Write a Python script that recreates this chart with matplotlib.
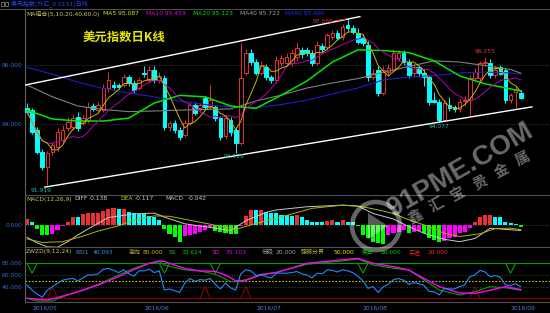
import matplotlib
matplotlib.use("Agg")
import matplotlib.pyplot as plt
from matplotlib.patches import Circle, Polygon
import numpy as np
import pandas as pd

plt.rcParams['font.family'] = ['DejaVu Sans', 'Noto Sans CJK SC']

# ---- daily candles (USD index), one per trading day, 2016/04/29 onward
opens = [94.54, 94.47, 93.80, 93.05, 92.54, 93.05, 93.22, 93.46, 93.86, 93.90,
         94.24, 94.03, 94.14, 94.61, 94.47, 94.47, 95.22, 95.32, 95.32, 95.32,
         95.59, 95.39, 95.22, 95.73, 95.49, 95.83, 95.49, 95.56, 93.90, 94.03,
         93.80, 93.63, 94.03, 94.64, 94.54, 94.88, 94.58, 94.58, 94.20, 93.59,
         94.14, 93.80, 93.36, 95.73, 96.41, 96.10, 95.73, 95.93, 95.59, 95.49,
         96.07, 96.07, 96.07, 96.27, 96.51, 96.51, 96.41, 96.07, 96.64, 96.61,
         96.95, 97.08, 96.95, 97.36, 97.25, 97.08, 96.92, 96.68, 95.59, 95.83,
         95.05, 95.76, 95.83, 96.24, 96.41, 96.10, 95.73, 95.93, 95.73, 95.59,
         94.81, 94.75, 94.14, 94.64, 94.58, 94.51, 94.78, 94.81, 95.56, 95.56,
         96.07, 96.07, 95.66, 95.93, 95.83, 94.81, 95.08, 95.05]
highs = [94.70, 94.55, 93.90, 93.15, 93.10, 93.40, 93.85, 93.95, 94.25, 94.30,
         94.40, 94.30, 94.75, 94.70, 94.75, 95.35, 95.75, 95.45, 95.40, 95.70,
         95.65, 95.50, 95.60, 95.97, 95.95, 95.95, 95.75, 95.65, 94.10, 94.15,
         93.90, 94.15, 94.75, 94.75, 94.70, 94.95, 95.32, 94.65, 94.28, 94.30,
         94.25, 93.90, 96.75, 96.55, 96.55, 96.20, 96.15, 96.05, 95.65, 96.30,
         96.35, 96.40, 96.55, 96.75, 96.62, 96.60, 96.50, 96.80, 96.75, 97.10,
         97.20, 97.20, 97.40, 97.569, 97.35, 97.25, 97.05, 96.80, 95.85, 95.95,
         95.95, 96.05, 96.55, 96.50, 96.50, 96.20, 96.05, 96.00, 95.85, 95.65,
         95.10, 94.85, 94.80, 94.90, 94.65, 94.85, 94.95, 95.65, 95.90, 96.15,
         96.255, 96.20, 95.95, 96.00, 95.90, 95.05, 95.30, 95.15]
lows = [94.35, 93.65, 92.98, 92.45, 91.919, 92.95, 93.10, 93.35, 93.75, 93.80,
        93.75, 93.95, 94.05, 94.45, 94.40, 94.40, 95.10, 95.20, 95.18, 95.25,
        95.30, 95.05, 95.15, 95.60, 95.40, 95.40, 95.40, 93.80, 93.75, 93.70,
        93.45, 93.55, 93.95, 94.30, 94.45, 94.50, 94.50, 94.10, 93.45, 93.50,
        93.60, 93.019, 93.30, 95.65, 96.00, 95.65, 95.65, 95.50, 95.40, 95.40,
        95.95, 95.95, 95.95, 96.15, 96.25, 96.30, 95.95, 96.00, 96.45, 96.50,
        96.85, 96.85, 96.85, 97.15, 97.05, 96.70, 96.65, 95.45, 95.50, 94.95,
        94.98, 95.65, 95.75, 96.15, 96.00, 95.55, 95.60, 95.60, 95.30, 94.65,
        94.70, 94.077, 94.10, 94.45, 94.40, 94.40, 94.60, 94.30, 95.45, 95.45,
        95.95, 95.55, 95.55, 95.65, 94.70, 94.70, 94.54, 94.85]
closes = [94.41, 93.73, 93.05, 92.54, 93.02, 93.29, 93.73, 93.80, 94.07, 94.20,
          93.86, 94.20, 94.58, 94.51, 94.64, 95.22, 95.49, 95.25, 95.25, 95.59,
          95.39, 95.15, 95.49, 95.69, 95.83, 95.49, 95.63, 93.90, 94.03, 93.80,
          93.56, 94.03, 94.64, 94.37, 94.64, 94.58, 94.81, 94.20, 93.56, 94.20,
          93.73, 93.36, 95.56, 96.41, 96.10, 95.73, 96.00, 95.59, 95.49, 96.17,
          96.24, 96.27, 96.41, 96.58, 96.37, 96.41, 96.07, 96.68, 96.54, 97.02,
          97.08, 96.92, 97.29, 97.25, 97.12, 96.78, 96.75, 95.59, 95.73, 95.05,
          95.83, 95.90, 96.41, 96.41, 96.10, 95.66, 95.93, 95.73, 95.59, 94.75,
          94.75, 94.14, 94.71, 94.54, 94.51, 94.75, 94.81, 95.56, 95.76, 96.07,
          96.10, 95.66, 95.83, 95.70, 94.81, 94.98, 95.15, 94.88]

# longer moving averages at sample days
ma_idx = [0, 5, 10, 15, 20, 25, 30, 35, 40, 45, 50, 55, 60, 65, 70, 75, 80, 85, 90, 95, 97]
ma20 = [94.47, 94.17, 94.10, 94.10, 94.20, 94.71, 94.97, 94.92, 94.61, 94.53, 94.98,
        95.46, 96.10, 96.51, 96.49, 96.42, 96.14, 95.63, 95.36, 95.19, 95.123]
ma40 = [95.32, 94.92, 94.61, 94.49, 94.42, 94.44, 94.47, 94.49, 94.51, 94.78, 94.98,
        95.22, 95.39, 95.54, 95.75, 95.95, 96.14, 96.10, 95.98, 95.85, 95.723]
ma60 = [95.92, 95.69, 95.42, 95.20, 95.05, 94.92, 94.78, 94.66, 94.58, 94.56, 94.66,
        94.81, 95.02, 95.22, 95.49, 95.59, 95.64, 95.73, 95.76, 95.73, 95.690]

# trend channel (day index, price)
upper_x, upper_y = [-0.4, 65.4], [95.32, 97.64]
lower_x, lower_y = [3.5, 99.2], [91.86, 94.58]

# MACD(12,26,9)
macd_bar = [0.151, 0.067, -0.101, -0.244, -0.252, -0.227, -0.126, -0.025, 0.067, 0.21,
            0.193, 0.277, 0.294, 0.302, 0.303, 0.361, 0.403, 0.42, 0.403, 0.415,
            0.319, 0.311, 0.277, 0.269, 0.235, 0.193, 0.126, -0.101, -0.227, -0.311,
            -0.437, -0.269, -0.26, -0.227, -0.168, -0.126, -0.042, -0.143, -0.185, -0.19,
            -0.227, -0.235, -0.025, 0.235, 0.378, 0.37, 0.386, 0.319, 0.311, 0.294,
            0.252, 0.244, 0.235, 0.244, 0.21, 0.126, 0.084, 0.076, 0.067, 0.109,
            0.118, 0.084, 0.118, 0.084, 0.076, -0.017, -0.252, -0.336, -0.42, -0.462,
            -0.47, -0.252, -0.21, -0.168, -0.126, -0.193, -0.168, -0.16, -0.21, -0.336,
            -0.378, -0.42, -0.403, -0.336, -0.294, -0.21, -0.168, -0.084, 0.084, 0.21,
            0.252, 0.26, 0.21, 0.202, 0.084, 0.042, 0.017, -0.042]
diff_idx = [0, 2, 4, 6, 8, 10, 12, 16, 21, 25, 27, 31, 36, 40, 43, 47, 49, 55, 62,
            65, 68, 72, 75, 78, 82, 85, 88, 91, 94, 97]
diff_val = [-0.31, -0.45, -0.55, -0.56, -0.42, -0.25, -0.10, 0.19, 0.28, 0.30, 0.20,
            0.03, -0.06, -0.14, 0.11, 0.32, 0.38, 0.46, 0.50, 0.48, 0.29, 0.15, -0.04,
            -0.21, -0.36, -0.42, -0.34, -0.08, -0.11, -0.138]
dea_idx = [0, 3, 7, 11, 14, 18, 21, 25, 28, 32, 36, 41, 45, 49, 56, 62, 66, 69, 72,
           75, 79, 82, 85, 89, 92, 95, 97]
dea_val = [-0.35, -0.44, -0.42, -0.28, -0.15, -0.02, 0.12, 0.23, 0.22, 0.12, 0.02, -0.11,
           0.04, 0.17, 0.42, 0.50, 0.46, 0.38, 0.29, 0.13, -0.04, -0.21, -0.29, -0.22,
           -0.09, -0.08, -0.117]

# ZWZD(9,12,24)
rsi1 = [43, 34, 27, 22, 34, 40, 46, 51, 53, 54,
        50, 55, 60, 60, 62, 70, 71, 68, 64, 69,
        62, 58, 67, 67, 70, 64, 67, 34, 36, 33,
        30, 46, 54, 49, 52, 51, 54, 44, 36, 46,
        38, 34, 62, 69, 67, 59, 61, 57, 55, 63,
        63, 63, 64, 66, 62, 60, 55, 63, 62, 69,
        68, 65, 69, 67, 64, 58, 50, 37, 40, 30,
        40, 44, 52, 54, 51, 44, 47, 45, 42, 32,
        31, 26, 37, 36, 36, 40, 43, 57, 60, 68,
        65, 57, 59, 56, 43, 42, 45, 40.093]
ss_idx = [0, 2, 5, 8, 11, 14, 18, 21, 24, 26, 27, 31, 34, 37, 40, 42, 46, 49, 55, 62,
          65, 68, 72, 75, 78, 81, 85, 88, 91, 94, 97]
ss_val = [20, 15.4, 15.4, 25.7, 34.3, 44, 60, 71.4, 80, 82.9, 77.1, 68.6, 66.9, 61.1,
          48.6, 48.6, 61.1, 64.6, 78.3, 84, 87.4, 77.1, 71.4, 68.6, 51.4, 34.3, 25.7,
          31.4, 40, 38, 33.624]
sd_idx = [0, 4, 8, 11, 14, 18, 21, 24, 26, 27, 31, 34, 37, 39, 41, 43, 46, 49, 55, 62,
          65, 68, 72, 75, 78, 81, 85, 88, 91, 94, 97]
sd_val = [20, 17, 26, 34, 43, 57, 69, 80, 84, 83, 71, 67, 66, 60, 50, 51, 60, 64, 80,
          86, 88.5, 80, 74, 68.5, 54, 40, 29, 28.5, 34, 40, 35.103]
sell_idx = [1, 27, 37, 66, 95]
buy_idx = [5, 35, 43, 88]

date_idx = [1, 23, 45, 66, 95]
date_labels = ['2016/05', '2016/06', '2016/07', '2016/08', '2016/09']

# ---- colours
RED = '#E63232'
CYAN = '#00FFFF'
GREEN = '#00FF00'
MAGENTA = '#FF00FF'
AXIS_BLUE = '#2D6ED2'
OLIVE = '#C8C864'
FS = 4.3

W, H = 550, 313
fig = plt.figure(figsize=(W / 100, H / 100), dpi=100, facecolor='black')


def panel(top, bottom):
    return fig.add_axes([25 / W, 1 - bottom / H, (W - 25) / W, (bottom - top) / H])


ax1 = panel(10, 195)
ax2 = panel(195, 247)
ax3 = panel(247, 302)
for ax in (ax1, ax2, ax3):
    ax.set_facecolor('black')
    ax.set_xlim(-0.39, 102.75)
    for s in ('right', 'top', 'bottom'):
        ax.spines[s].set_visible(False)
    ax.spines['left'].set_color('#606060')
    ax.set_xticks([])
    ax.tick_params(axis='y', length=0, pad=2, labelsize=FS, labelcolor=AXIS_BLUE)
for ax in (ax2, ax3):
    ax.spines['top'].set_visible(True)
    ax.spines['top'].set_color('#505050')
ax3.spines['bottom'].set_visible(True)
ax3.spines['bottom'].set_color('#505050')

# ---- main panel: candles
x = np.arange(len(closes))
o, h, l, c = map(np.array, (opens, highs, lows, closes))
up = c >= o
col = np.where(up, RED, CYAN)
ax1.vlines(x, l, h, colors=col, lw=0.7, zorder=2)
ax1.bar(x, np.maximum(np.abs(c - o), 0.012), bottom=np.minimum(o, c), width=0.72,
        color=np.where(up, 'black', CYAN), edgecolor=col, linewidth=0.7, zorder=3)

ma5 = pd.Series(closes).rolling(5, min_periods=1).mean()
ma10 = pd.Series(closes).rolling(10, min_periods=1).mean()
ax1.plot(ma_idx, ma60, color='#1E1EC8', lw=0.8, zorder=4)
ax1.plot(ma_idx, ma40, color='#808080', lw=0.8, zorder=4)
ax1.plot(ma_idx, ma20, color='#00E600', lw=1.1, zorder=4)
ax1.plot(x, ma10, color='#B400B4', lw=0.7, zorder=4)
ax1.plot(x, ma5, color='#C8B400', lw=0.7, zorder=4)
ax1.plot(upper_x, upper_y, color='white', lw=1.0, zorder=5)
ax1.plot(lower_x, lower_y, color='white', lw=1.0, zorder=5)
for lv in (94, 96):
    ax1.axhline(lv, color='#3C3C3C', lw=0.7, ls=(0, (1, 1.5)), zorder=1)
ax1.set_ylim(91.593, 97.864)
ax1.set_yticks([94, 96], ['94.000', '96.000'])

ax1.text(60.2, 97.47, '97.569', color=RED, fontsize=FS, ha='right', va='center', zorder=6)
ax1.plot([60.4, 62.6], [97.5, 97.55], color=RED, lw=0.6, zorder=6)
ax1.text(90, 96.45, '96.255', color=RED, fontsize=FS, ha='center', va='center', zorder=6)
ax1.text(80.9, 93.91, '94.077', color='#28B4B4', fontsize=FS, ha='center', va='center', zorder=6)
ax1.text(40.7, 92.89, '93.019', color='#28B4B4', fontsize=FS, ha='center', va='center', zorder=6)
ax1.text(2.75, 91.76, '91.919', color='#28B4B4', fontsize=FS, ha='center', va='center', zorder=6)

# ---- MACD panel
mb = np.array(macd_bar)
prev = np.r_[mb[0], mb[:-1]]
bar_col = np.where(mb >= 0, np.where(mb >= prev, RED, CYAN),
                   np.where(mb <= prev, GREEN, MAGENTA))
ax2.bar(x, mb, width=0.8, color=bar_col, zorder=2)
ax2.axhline(0, color='#3C3C3C', lw=0.7, ls=(0, (1, 1.5)), zorder=1)
ax2.plot(diff_idx, diff_val, color='#C8C8C8', lw=0.7, zorder=3)
ax2.plot(dea_idx, dea_val, color='#B4B400', lw=0.7, zorder=3)
ax2.set_ylim(-0.554, 0.756)
ax2.set_yticks([0], ['0.000'])

# ---- ZWZD panel
for lv in (40, 60):
    ax3.axhline(lv, color='#3C3C3C', lw=0.7, ls=(0, (1, 1.5)), zorder=1)
ax3.axhline(50, color='#C8C800', lw=0.8, ls=(0, (1.5, 1.5)), zorder=1)
ax3.axhline(80, color='#00A000', lw=0.8, zorder=2)
ax3.axhline(20, color='#8C0000', lw=0.8, zorder=2)
for s in sell_idx:
    ax3.plot([s - 1, s, s + 1], [80, 63, 80], color='#00A000', lw=0.8, zorder=2)
for b in buy_idx:
    ax3.plot([b - 1, b, b + 1], [20, 40, 20], color='#8C0000', lw=0.8, zorder=2)
ax3.plot(ss_idx, ss_val, color='#00A000', lw=0.8, zorder=3)
ax3.plot(sd_idx, sd_val, color='#FF00FF', lw=1.0, zorder=3)
ax3.plot(x, rsi1, color='#1E8CFF', lw=0.8, zorder=4)
ax3.set_ylim(13.67, 107.9)
ax3.set_yticks([40, 60, 80], ['40.000', '60.000', '80.000'])
ax3.set_xticks(date_idx, date_labels)
ax3.tick_params(axis='x', length=0, pad=2.5, labelsize=FS, labelcolor='#4682DC')
for t in ax3.get_xticklabels():
    t.set_ha('left')

# ---- overlay in pixel units for headers and watermark
ov = fig.add_axes([0, 0, 1, 1], zorder=20)
ov.set_xlim(0, W)
ov.set_ylim(H, 0)
ov.axis('off')
ov.axhline(8.5, color='#505050', lw=0.7)
for rx in (1, 5):
    ov.add_patch(plt.Rectangle((rx, 2), 3, 4, fill=False, ec='#909090', lw=0.5))
ov.text(11, 4, '美元指数(外汇_0 0151)日线', color='#2846FF', fontsize=FS, va='center')


def row(y, items):
    for s, px, cl in items:
        ov.text(px, y, s, color=cl, fontsize=FS, ha='left', va='center')


row(13.5, [('MA组合(5,10,20,40,60,0)', 26, OLIVE), ('MA5 95.087', 103, '#E6E600'),
           ('MA10 95.459', 146, '#E600E6'), ('MA20 95.123', 193, '#00E600'),
           ('MA40 95.723', 240, '#A0A0A0'), ('MA60 95.690', 285, '#2828FF')])
row(199, [('MACD(12,26,9)', 26, OLIVE), ('DIFF', 74, '#C8C8C8'), ('-0.138', 89, '#C8C8C8'),
          ('DEA', 120, '#C8C800'), ('-0.117', 135, '#C8C8C8'), ('MACD', 165, '#C8C8C8'),
          ('-0.042', 188, '#C8C8C8')])
row(252, [('ZWZD(9,12,24)', 26, OLIVE), ('RSI1', 75, '#3C8CE6'), ('40.093', 93, '#3C8CE6'),
          ('高抛', 129, '#B49632'), ('80.000', 143, '#C8B400'), ('SS', 169, '#00C800'),
          ('33.624', 182, '#00C800'), ('SD', 212, '#E600E6'), ('35.103', 226, '#E600E6'),
          ('低吸', 262, '#A0A0A0'), ('20.000', 275, '#A0A0A0'), ('强弱分界', 301, '#B4B432'),
          ('50.000', 333, '#E6E600'), ('卖出', 362, '#00C800'), ('80.000', 381, '#00C800'),
          ('买进', 409, '#E62828'), ('20.000', 428, '#E62828')])

ov.text(83, 37, '美元指数日K线', color='#E6E600', fontsize=8.9, fontweight='bold',
        family=['Noto Sans CJK SC'], ha='left', va='center')

# watermark
ov.add_patch(Circle((376, 226), 24, fill=False, ec='white', lw=3.3, alpha=0.4))
ov.add_patch(Polygon([(368, 213), (388, 226), (368, 239)], closed=True, fc='white', alpha=0.35))
ov.text(460, 170, '91PME.COM', rotation=30, rotation_mode='anchor', fontsize=20,
        family=['Liberation Sans'], fontweight='bold', color='white', alpha=0.42,
        ha='center', va='center')
for k, ch in enumerate('鑫汇宝贵金属'):
    ov.text(415 + 21.5 * k, 216 - 11.5 * k, ch, rotation=28, fontsize=10.5,
            family=['Noto Sans CJK SC'], fontweight='bold', color='white', alpha=0.42,
            ha='center', va='center')

fig.savefig('out.png', dpi=100, facecolor='black')
